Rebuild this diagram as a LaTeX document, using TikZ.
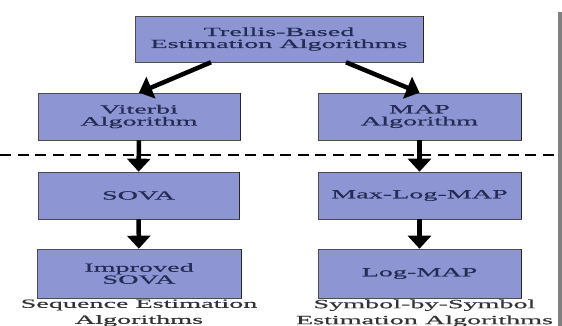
\documentclass[tikz,border=0pt]{standalone}
\usepackage{fontspec}
\usepackage{xcolor}
\usepackage{tikz}
\usetikzlibrary{arrows.meta,positioning}
\newfontfamily\widefont[FakeStretch=2.25,FakeBold=0.6]{Liberation Serif}
\definecolor{boxblue}{HTML}{8D96D2}
\definecolor{boxtext}{HTML}{262B55}
\tikzset{
  algbox/.style={rectangle, fill=boxblue, draw=black!70, line width=0.6pt,
    minimum height=47pt, align=center, text=boxtext,
    font=\widefont\fontsize{12.5}{12}\selectfont, inner sep=0pt},
  grouplabel/.style={align=center, text=black!80, inner sep=0pt,
    font=\widefont\fontsize{12.5}{16}\selectfont},
  bigarrow/.style={line width=4.5pt, -{Triangle[width=23pt,length=13pt]}}
}
\begin{document}
\begin{tikzpicture}[x=1pt,y=-1pt]
\useasboundingbox (0,0) rectangle (562,326);
\node[algbox, minimum width=288pt, minimum height=46pt] (trellis) at (279,39) {Trellis-Based\\Estimation Algorithms};
\node[algbox, minimum width=202pt] (viterbi) at (139,116.5) {Viterbi\\Algorithm};
\node[algbox, minimum width=203pt] (map) at (419.5,116.5) {MAP\\Algorithm};
\node[algbox, minimum width=201pt] (sova) at (138.5,195.5) {SOVA};
\node[algbox, minimum width=203pt] (maxlog) at (419.5,195.5) {Max-Log-MAP};
\node[algbox, minimum width=204pt, minimum height=49pt] (impsova) at (139,273.5) {Improved\\SOVA};
\node[algbox, minimum width=203pt, minimum height=49pt] (logmap) at (419.5,273.5) {Log-MAP};
\foreach \n in {trellis,viterbi,map,sova,maxlog,impsova,logmap}
  \draw[line width=1.6pt, black!85] (\n.north east) -- (\n.south east);
\node[grouplabel, below=1pt of impsova] (seqlabel) {Sequence Estimation\\Algorithms};
\node[grouplabel, below=1pt of logmap, xshift=5pt] (symlabel) {Symbol-by-Symbol\\Estimation Algorithms};
\draw[line width=2.5pt, dash pattern=on 11pt off 6.5pt] (0,155) -- (555,155);
\draw[bigarrow] ([xshift=-68pt]trellis.south) -- (viterbi.north);
\draw[bigarrow] ([xshift=67pt]trellis.south) -- (map.north);
\draw[bigarrow] (viterbi) -- (sova);
\draw[bigarrow] (map) -- (maxlog);
\draw[bigarrow] (sova) -- (impsova);
\draw[bigarrow] (maxlog) -- (logmap);
\fill[black!50] (558,12) rectangle (562,326);
\end{tikzpicture}
\end{document}
